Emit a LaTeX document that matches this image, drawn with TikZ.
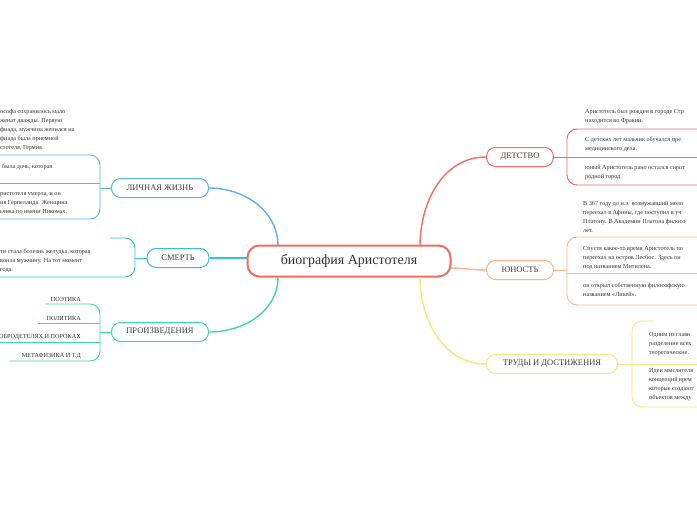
\documentclass[tikz,border=0pt]{standalone}
\usepackage{fontspec}
\setmainfont{Liberation Serif}
\begin{document}
\begin{tikzpicture}[x=1pt,y=-1pt,
  central/.style={draw=#1,line width=2pt,rounded corners=12pt,minimum width=203pt,minimum height=31pt,font=\fontsize{14}{16}\selectfont,text=black!80},
  branch/.style={draw=#1,line width=1pt,rounded corners=9pt,minimum height=19pt,font=\fontsize{8.5}{10}\selectfont,text=black!75},
  leaf/.style={anchor=north west,inner sep=0pt,align=left,font=\fontsize{6.2}{9}\selectfont,text=black!80},
  conn/.style={draw=#1,line width=1.4pt},
  thin/.style={draw=#1,line width=0.9pt,rounded corners=10pt}]
\definecolor{cR}{HTML}{F26B5F}\definecolor{cO}{HTML}{FDB58A}\definecolor{cY}{HTML}{FCE57E}
\definecolor{cB}{HTML}{5AB0F0}\definecolor{cT}{HTML}{2FC6D2}\definecolor{cG}{HTML}{3DD9A6}
\useasboundingbox (0,0) rectangle (697,520);
\fill[white] (0,0) rectangle (697,520);
\node[central=cR] (c) at (349,261) {биография Аристотеля};
\node[branch=cR,minimum width=67pt] (d) at (520,157) {ДЕТСТВО};
\node[branch=cO,minimum width=67pt] (u) at (520,270) {ЮНОСТЬ};
\node[branch=cY,minimum width=131pt] (t) at (552,364) {ТРУДЫ И ДОСТИЖЕНИЯ};
\node[branch=cB,minimum width=97pt] (l) at (160,188) {ЛИЧНАЯ ЖИЗНЬ};
\node[branch=cT,minimum width=62pt] (s) at (178,258) {СМЕРТЬ};
\node[branch=cG,minimum width=97pt] (p) at (160,332) {ПРОИЗВЕДЕНИЯ};
\coordinate (cdr) at (420,246);\coordinate (ctr) at (420,277);
\coordinate (cdl) at (278,246);\coordinate (ctl) at (278,277);
\coordinate (cs) at (247.5,258);\coordinate (cu) at (450.5,268);
\draw[conn=cR] (cdr) to[out=90,in=180] (d.west);
\draw[conn=cO] (cu) to[out=0,in=180] (u.west);
\draw[conn=cY] (ctr) to[out=-90,in=180] (t.west);
\draw[conn=cB] (cdl) to[out=90,in=0] (l.east);
\draw[conn=cT] (cs) -- (s.east);
\draw[conn=cG] (ctl) to[out=-90,in=0] (p.east);
% DETSTVO leaves
\draw[thin=cR] (d.east) -- (567,157);
\draw[thin=cR] (697,129) -- (567,129) -- (567,185) -- (697,185);
\draw[thin=cR] (567,157) -- (697,157);
\node[leaf] (d1) at (585,109) {Аристотель был рожден в городе Стр\\находится во Фракии.};
\node[leaf] (d2) at (585,137) {С детских лет мальчик обучался пре\\медицинского дела.};
\node[leaf] (d3) at (585,165) {юный Аристотель рано остался сирот\\родной город.};
% YUNOST
\draw[thin=cO] (u.east) -- (567,270);
\draw[thin=cO] (697,237) -- (567,237) -- (567,305) -- (697,305);
\draw[thin=cO] (567,273) -- (697,273);
\node[leaf] (u1) at (583,201) {В 367 году до н.э. возмужавший моло\\переехал в Афины, где поступил в уч\\Платону. В Академии Платона филосо\\лет.};
\node[leaf] (u2) at (583,246) {Спустя какое-то время Аристотель по\\переехал на остров Лесбос. Здесь он\\под названием Митилена.};
\node[leaf] (u3) at (583,283) {он открыл собственную философскую\\названием «Ликей».};
% TRUDY
\draw[thin=cY] (t.east) -- (632,364);
\draw[thin=cY] (655,321) -- (632,321) -- (632,407) -- (697,407);
\draw[thin=cY] (632,364) -- (697,364);
\node[leaf] (t1) at (649,332) {Одним из главн\\разделение всех\\теоретические.};
\node[leaf] (t2) at (649,368) {Идеи мыслителя\\концепций врем\\которые создают\\объектов между};
% LICHNAYA
\draw[thin=cB] (l.west) -- (100,188);
\draw[thin=cB] (0,155) -- (100,155) -- (100,219) -- (0,219);
\draw[thin=cB] (100,183) -- (0,183);
\node[leaf] (l1) at (0,109) {ософа сохранилось мало\\женат дважды. Первую\\фиада, мужчина женился на\\фиада была приемной\\стотеля, Гермия.};
\node[leaf] (l2) at (2,164) {была дочь, которая};
\node[leaf] (l3) at (0,192) {ристотеля умерла, и он\\ия Герпеллида. Женщина\\ьчика по имени Никомах.};
% SMERT
\draw[thin=cT] (s.west) -- (135,258);
\draw[thin=cT] (110,238) -- (135,238) -- (135,277) -- (0,277);
\node[leaf] (s1) at (0,249) {ти стала болезнь желудка, которая\\вонла мужчину. На тот момент\\ года.};
% PROIZVEDENIYA
\draw[thin=cG] (p.west) -- (100,332);
\draw[thin=cG] (45,304) -- (100,304) -- (100,361) -- (10,361);
\draw[thin=cG] (38,323) -- (100,323);
\draw[thin=cG] (0,342) -- (100,342);
\node[leaf,anchor=south east] (p1) at (81,302) {ПОЭТИКА};
\node[leaf,anchor=south east] (p2) at (81,321) {ПОЛИТИКА};
\node[leaf,anchor=south east] (p3) at (81,340) {ДОБРОДЕТЕЛЯХ И ПОРОКАХ};
\node[leaf,anchor=south east] (p4) at (81,359) {МЕТАФИЗИКА И Т.Д};
\end{tikzpicture}
\end{document}
